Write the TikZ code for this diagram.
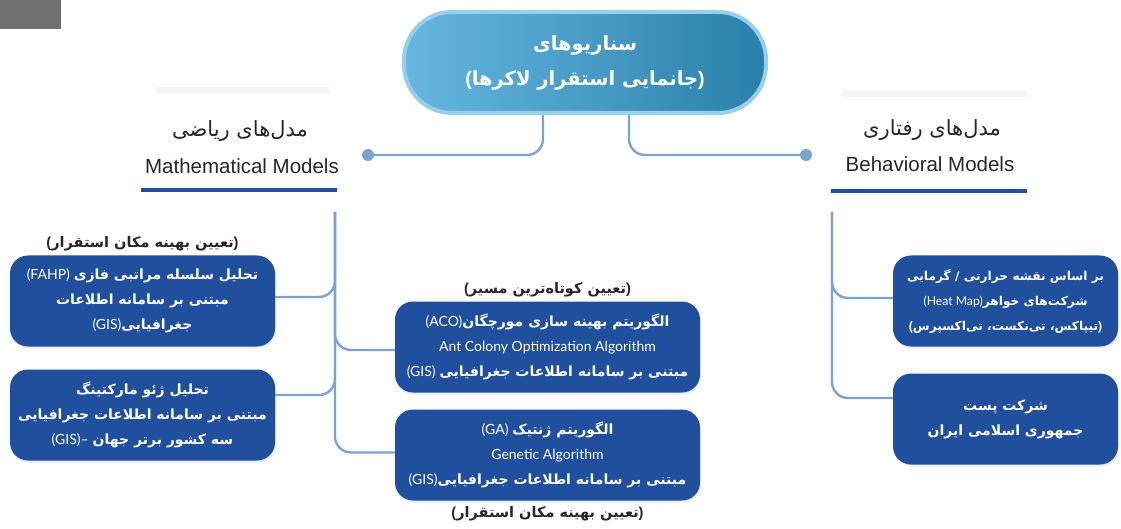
\documentclass[tikz,border=0pt]{standalone}
\usepackage{fontspec}
\usetikzlibrary{positioning,shadows}
\setmainfont{Liberation Sans}
\newfontfamily\farsi[Script=Arabic]{DejaVu Sans}
\newfontfamily\lato{Lato}
\TeXXeTstate=1
\newcommand{\fa}[1]{{\farsi\beginR #1\endR}}
\newcommand{\fab}[1]{{\farsi\bfseries\beginR #1\endR}}
\newcommand{\fap}[1]{{\bfseries(}\fab{#1}{\bfseries)}}
\newcommand{\lat}[1]{{\lato #1}}
\definecolor{boxblue}{HTML}{1F4F9D}
\definecolor{linkblue}{HTML}{7BA3CF}
\definecolor{ringblue}{HTML}{9ACFEB}
\definecolor{tealA}{HTML}{66B7E0}
\definecolor{tealB}{HTML}{2A80AA}
\definecolor{inkgray}{HTML}{262626}
\definecolor{tabgray}{HTML}{6F6F6F}

\begin{document}
\begin{tikzpicture}[x=1pt,y=-1pt,
  modelbox/.style={fill=boxblue,rounded corners=18pt,text=white,align=center,
    minimum height=91pt,inner sep=0pt,font=\fontsize{14}{25}\selectfont,
    drop shadow={opacity=0.15,shadow xshift=1pt,shadow yshift=-2pt}},
  hub/.style={rounded corners=48pt,left color=tealA,right color=tealB,draw=ringblue,
    line width=4pt,minimum width=362pt,minimum height=101pt,text=white,align=center,
    font=\fontsize{19.5}{35}\selectfont},
  link/.style={linkblue,line width=2.4pt,rounded corners=16pt},
  tag/.style={text=inkgray,font=\fontsize{14.5}{18}\selectfont},
  dot/.style={circle,fill=linkblue,minimum size=12pt,inner sep=0pt},
  heading/.style={text=inkgray}]
  \useasboundingbox (0,0) rectangle (1121,529);
  \fill[tabgray] (0,0) rectangle (61,29);

  \fill[black,opacity=0.035] (155,87) rectangle (330,94);
  \fill[black,opacity=0.035] (842,90) rectangle (1027,97);

  \node[hub] (hub) at (585,62.5) {\fab{سناریوهای}\\ \fap{جانمایی استقرار لاکرها}};

  \node[heading,font=\fontsize{21}{24}\selectfont] (mathfa) at (240,131) {\fa{مدل‌های ریاضی}};
  \node[heading,font=\fontsize{20.5}{24}\selectfont] (mathen) at (242,166) {Mathematical Models};
  \node[heading,font=\fontsize{21}{24}\selectfont] (behfa) at (932,130) {\fa{مدل‌های رفتاری}};
  \node[heading,font=\fontsize{20.5}{24}\selectfont] (behen) at (930,164) {Behavioral Models};
  \draw[boxblue,line width=4pt] (141,190) -- (337,190);
  \draw[boxblue,line width=4pt] (831,191) -- (1027,191);

  \node[dot] (mdot) at (368,155) {};
  \node[dot] (bdot) at (806,155) {};

  \node[modelbox,minimum width=265pt] (fahp) at (142.5,301)
    {\lat{(FAHP)} \fab{تحلیل سلسله مراتبی فازی}\\ \fab{مبتنی بر سامانه اطلاعات}\\ \lat{(GIS)}\fab{جغرافیایی}};
  \node[modelbox,minimum width=265pt] (geo) at (142.5,415)
    {\fab{تحلیل ژئو مارکتینگ}\\ \fab{مبتنی بر سامانه اطلاعات جغرافیایی}\\ \lat{(GIS)–} \fab{سه کشور برتر جهان}};
  \node[modelbox,minimum width=305pt] (aco) at (547.5,347)
    {\lat{(ACO)}\fab{الگوریتم بهینه سازی مورچگان}\\ \lat{Ant Colony Optimization Algorithm}\\ \lat{(GIS)} \fab{مبتنی بر سامانه اطلاعات جغرافیایی}};
  \node[modelbox,minimum width=305pt] (ga) at (547.5,455)
    {\lat{(GA)} \fab{الگوریتم ژنتیک}\\ \lat{Genetic Algorithm}\\ \lat{(GIS)}\fab{مبتنی بر سامانه اطلاعات جغرافیایی}};
  \node[modelbox,minimum width=225pt,font=\fontsize{12.2}{25}\selectfont] (heat) at (1005.5,301)
    {\fab{بر اساس نقشه حرارتی / گرمایی}\\ \lat{(Heat Map)}\fab{شرکت‌های خواهر}\\ \fap{تیپاکس، تی‌نکست، تی‌اکسپرس}};
  \node[modelbox,minimum width=225pt] (post) at (1005.5,419)
    {\fab{شرکت پست}\\ \fab{جمهوری اسلامی ایران}};

  \node[tag,above=1pt of fahp] (fahptag) {\fap{تعیین بهینه مکان استقرار}};
  \node[tag,above=1pt of aco] (acotag) {\fap{تعیین کوتاه‌ترین مسیر}};
  \node[tag,below=2pt of ga] (gatag) {\fap{تعیین بهینه مکان استقرار}};

  \coordinate (mtrunk) at (335,212);
  \coordinate (btrunk) at (832,212);

  \draw[link] ([xshift=-42pt]hub.south) |- (mdot);
  \draw[link] ([xshift=44pt]hub.south) |- (bdot);
  \draw[link] (mtrunk) |- ([yshift=4pt]fahp.east);
  \draw[link] (mtrunk) |- ([yshift=20pt]geo.east);
  \draw[link] (mtrunk) |- ([yshift=-3pt]aco.west);
  \draw[link] (mtrunk) |- ([yshift=2.5pt]ga.west);
  \draw[link] (btrunk) |- ([yshift=3pt]heat.west);
  \draw[link] (btrunk) |- ([yshift=21pt]post.west);
\end{tikzpicture}
\end{document}
